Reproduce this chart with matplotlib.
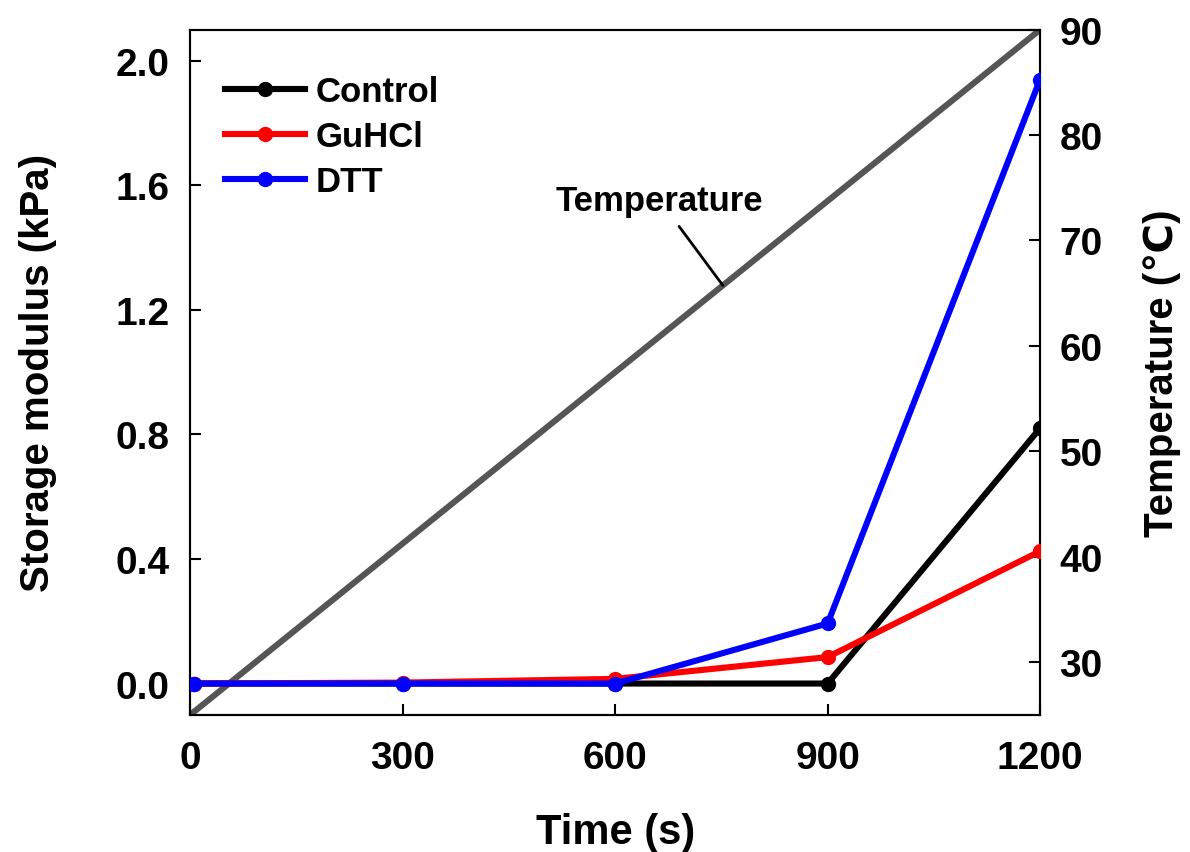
import numpy as np
import matplotlib.pyplot as plt

plt.rcParams['font.family'] = ['Liberation Sans', 'DejaVu Sans']
plt.rcParams['font.weight'] = 'bold'

time = [5, 300, 600, 900, 1200]
control = [0.0, 0.0, 0.0, 0.0, 0.82]
guhcl = [0.0, 0.003, 0.015, 0.085, 0.425]
dtt = [0.0, 0.0, 0.0, 0.193, 1.94]

temp_time = [0, 1200]
temp_vals = [25, 90]

fig, ax = plt.subplots(figsize=(11.9, 8.53), dpi=100)
fig.subplots_adjust(left=0.16, right=0.874, top=0.964, bottom=0.161)
ax2 = ax.twinx()

ax2.plot(temp_time, temp_vals, color='#555555', linewidth=4.4, zorder=1)
ax2.annotate('Temperature', xy=(752, 25 + 65 * 752 / 1200), xytext=(663, 73.8),
             ha='center', va='center', fontsize=25, fontweight='bold',
             arrowprops=dict(arrowstyle='-', color='black', lw=2, shrinkA=6, shrinkB=0))

ax.plot(time, control, '-o', color='black', lw=4.4, ms=10, label='Control', zorder=3)
ax.plot(time, guhcl, '-o', color='red', lw=4.4, ms=10, label='GuHCl', zorder=4)
ax.plot(time, dtt, '-o', color='blue', lw=4.4, ms=10, label='DTT', zorder=5)

ax.set_zorder(ax2.get_zorder() + 1)
ax.patch.set_visible(False)

ax.set_xlim(0, 1200)
ax.set_ylim(-0.1, 2.1)
ax2.set_ylim(25, 90)
ax.set_xticks([0, 300, 600, 900, 1200])
ax.set_yticks([0.0, 0.4, 0.8, 1.2, 1.6, 2.0])
ax.set_yticklabels(['0.0', '0.4', '0.8', '1.2', '1.6', '2.0'])
ax2.set_yticks([30, 40, 50, 60, 70, 80, 90])

ax.tick_params(axis='x', direction='in', length=8, width=1.5, labelsize=28, pad=18)
ax.tick_params(axis='y', direction='in', length=8, width=1.5, labelsize=28, pad=15)
ax2.tick_params(axis='y', direction='in', length=8, width=1.5, labelsize=28, pad=14)
for a in (ax, ax2):
    for s in a.spines.values():
        s.set_linewidth(1.5)
    for lab in a.get_xticklabels() + a.get_yticklabels():
        lab.set_fontweight('bold')

ax.set_xlabel('Time (s)', fontsize=30, fontweight='bold', labelpad=26)
ax.set_ylabel('Storage modulus (kPa)', fontsize=29, fontweight='bold', labelpad=42)
ax2.set_ylabel('Temperature (℃)', fontsize=29, fontweight='bold', labelpad=29)

ax.legend(loc='upper left', bbox_to_anchor=(0, 0.985), frameon=False, fontsize=25,
          handlelength=2.3, borderaxespad=0.6, labelspacing=0.35, handletextpad=0.3)

plt.savefig('out.png', dpi=100)
